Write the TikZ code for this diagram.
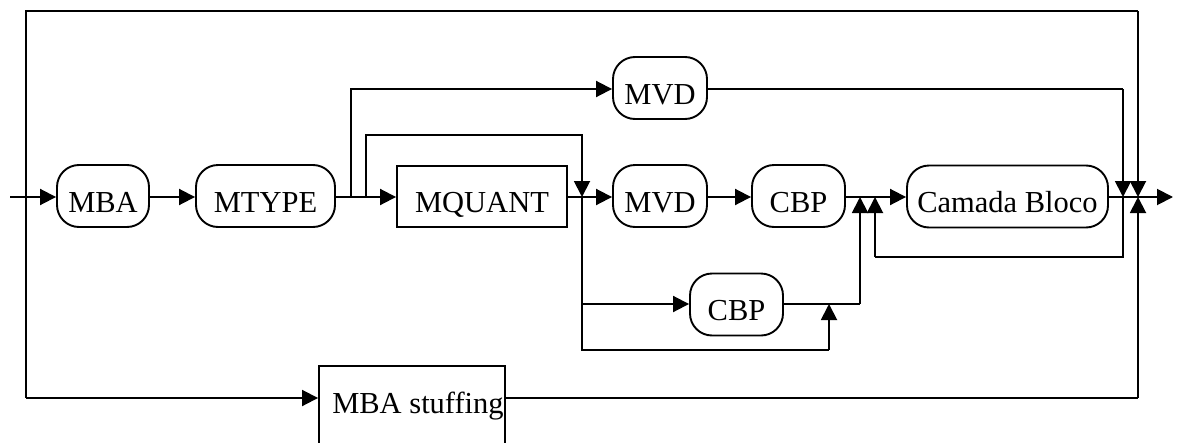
\documentclass[tikz,border=0pt]{standalone}
\usepackage{fontspec}
\setmainfont{Liberation Serif}
\usetikzlibrary{arrows.meta,calc}
\newcommand\lowtxt[1]{\raisebox{-16pt}[0pt][0pt]{#1}}
\begin{document}
\begin{tikzpicture}[x=1pt,y=-1pt,
  every path/.style={line width=1.9pt},
  rnode/.style={draw,line width=1.9pt,rounded corners=22pt,minimum height=62pt,inner sep=0pt,font=\fontsize{30.5}{32}\selectfont},
  bnode/.style={draw,line width=1.9pt,minimum height=61pt,inner sep=0pt,font=\fontsize{30.5}{32}\selectfont},
  arr/.style={-{Triangle[length=16pt,width=16pt]}}]
\useasboundingbox (0,0) rectangle (1178,442);
% nodes
\node[rnode,minimum width=92pt] (mba) at (103,196) {\lowtxt{MBA}};
\node[rnode,minimum width=139pt] (mtype) at (265.5,196) {\lowtxt{MTYPE}};
\node[bnode,minimum width=170pt] (mquant) at (482,196.5) {\lowtxt{MQUANT}};
\node[rnode,minimum width=94pt] (mvd) at (660,196) {\lowtxt{MVD}};
\node[rnode,minimum width=93pt] (cbp) at (798.5,196) {\lowtxt{CBP}};
\node[rnode,minimum width=201pt] (cam) at (1007.5,196.5) {\lowtxt{Camada Bloco}};
\node[rnode,minimum width=94pt] (mvdtop) at (660,88) {\lowtxt{MVD}};
\node[rnode,minimum width=93pt] (cbplow) at (736.5,304.5) {\lowtxt{CBP}};
\node[bnode,minimum width=186pt,minimum height=84pt] (stuff) at (412,408) {};
\node[font=\fontsize{30.5}{32}\selectfont,anchor=base] (stufftext) at (418,413) {MBA stuffing};
% coordinates
\coordinate (in) at (10,197);
\coordinate (split) at (26,197);
\coordinate (out) at (1173,197);
\coordinate (b1) at (351,197);
\coordinate (b2) at (366,197);
\coordinate (j1) at (582,197);
\coordinate (j2) at (860,197);
\coordinate (j3) at (875,197);
\coordinate (j4) at (1123,197);
\coordinate (j5) at (1138,197);
\coordinate (lowjoin) at (829,304);
% main line
\draw[arr] (in) -- (mba.west |- in);
\draw[arr] (mba.east |- in) -- (mtype.west |- in);
\draw[arr] (mtype.east |- in) -- (mquant.west |- in);
\draw[arr] (mquant.east |- in) -- (mvd.west |- in);
\draw[arr] (mvd.east |- in) -- (cbp.west |- in);
\draw[arr] (cbp.east |- in) -- (cam.west |- in);
\draw[arr] (cam.east |- in) -- (out);
% branches from MTYPE
\draw[arr] (b1) -- (351,89) -- (mvdtop.west |- 0,89);
\draw[arr] (b2) -- (366,135) -- (582,135) -- (j1);
% lower branch
\draw (j1) -- (582,350) -- (829,350);
\draw[arr] (829,350) -- (lowjoin);
\draw[arr] (582,304) -- (cbplow.west |- 0,304);
\draw (cbplow.east |- 0,304) -- (860,304);
\draw[arr] (860,304) -- (j2);
% MVD top to output
\draw (mvdtop.east |- 0,89) -- (1123,89);
\draw[arr] (1123,89) -- (j4);
% feedback
\draw (j4) -- (1123,257) -- (875,257);
\draw[arr] (875,257) -- (j3);
% outer bypass
\draw (split) -- (26,11) -- (1138,11);
\draw[arr] (1138,11) -- (j5);
\draw (split) -- (26,398);
\draw[arr] (26,398) -- (stuff.west |- 0,398);
\draw (stuff.east |- 0,398) -- (1138,398);
\draw[arr] (1138,398) -- (j5);
\end{tikzpicture}
\end{document}
